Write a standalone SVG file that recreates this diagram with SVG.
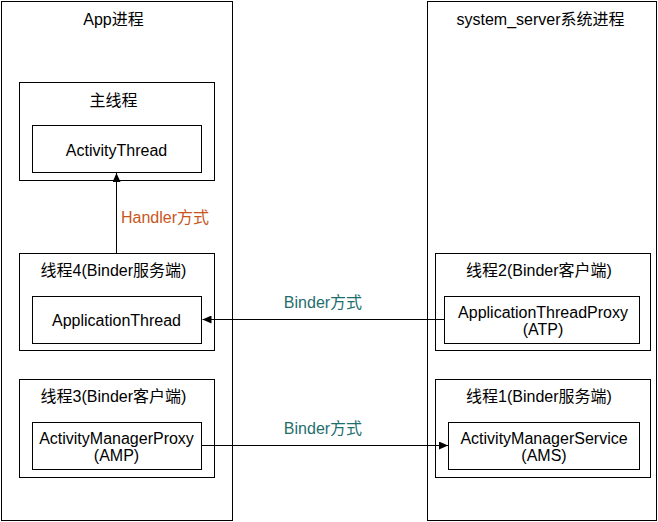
<svg xmlns="http://www.w3.org/2000/svg" width="658" height="522" viewBox="0 0 658 522">
<defs>
<style>
.box{fill:#ffffff;stroke:#000000;stroke-width:1}
.t{font-family:"Liberation Sans","Noto Sans CJK SC",sans-serif;font-size:16px;fill:#000000;text-anchor:middle}
.lbl-b{fill:#1f6e6e}
.lbl-h{fill:#c8561c}
.conn{stroke:#000000;stroke-width:1;fill:none}
</style>
<marker id="arrow" viewBox="0 0 9 8" refX="9" refY="4" markerWidth="9" markerHeight="8" markerUnits="userSpaceOnUse" orient="auto">
<path d="M0,0 L9,4 L0,8 z" fill="#000000"/>
</marker>
</defs>
<rect width="658" height="522" fill="#ffffff"/>

<g id="app-process">
<rect class="box" x="1.5" y="1.5" width="231" height="519"/>
<text class="t" x="113.5" y="25">App进程</text>
</g>

<g id="system-server-process">
<rect class="box" x="427.5" y="1.5" width="229" height="519"/>
<text class="t" x="540.5" y="25">system_server系统进程</text>
</g>

<g id="main-thread">
<rect class="box" x="19.5" y="82.5" width="195" height="98"/>
<text class="t" x="113.5" y="105.5">主线程</text>
</g>
<g id="activity-thread">
<rect class="box" x="32.5" y="125.5" width="169" height="47"/>
<text class="t" x="116.5" y="155.5">ActivityThread</text>
</g>

<g id="thread4">
<rect class="box" x="19.5" y="253.5" width="195" height="97"/>
<text class="t" x="113.5" y="276">线程4(Binder服务端)</text>
</g>
<g id="application-thread">
<rect class="box" x="32.5" y="296.5" width="169" height="47"/>
<text class="t" x="116.5" y="325.5">ApplicationThread</text>
</g>

<g id="thread3">
<rect class="box" x="19.5" y="379.5" width="195" height="98"/>
<text class="t" x="113.5" y="402">线程3(Binder客户端)</text>
</g>
<g id="amp">
<rect class="box" x="32.5" y="422.5" width="169" height="47"/>
<text class="t" x="116.5" y="443.5">ActivityManagerProxy</text>
<text class="t" x="116.5" y="460.5">(AMP)</text>
</g>

<g id="thread2">
<rect class="box" x="435.5" y="253.5" width="215" height="97"/>
<text class="t" x="539" y="276">线程2(Binder客户端)</text>
</g>
<g id="atp">
<rect class="box" x="444.5" y="296.5" width="195" height="47"/>
<text class="t" x="543" y="317.5">ApplicationThreadProxy</text>
<text class="t" x="543" y="334.5">(ATP)</text>
</g>

<g id="thread1">
<rect class="box" x="435.5" y="379.5" width="215" height="98"/>
<text class="t" x="539" y="402">线程1(Binder服务端)</text>
</g>
<g id="ams">
<rect class="box" x="448.5" y="422.5" width="191" height="47"/>
<text class="t" x="544" y="443.5">ActivityManagerService</text>
<text class="t" x="544" y="460.5">(AMS)</text>
</g>

<g id="connectors">
<line class="conn" x1="116.5" y1="253.5" x2="116.5" y2="173" marker-end="url(#arrow)"/>
<text class="t lbl-h" x="165" y="223">Handler方式</text>
<line class="conn" x1="444.5" y1="319.5" x2="202.5" y2="319.5" marker-end="url(#arrow)"/>
<text class="t lbl-b" x="323" y="308">Binder方式</text>
<line class="conn" x1="201.5" y1="445.5" x2="448" y2="445.5" marker-end="url(#arrow)"/>
<text class="t lbl-b" x="323" y="433.5">Binder方式</text>
</g>
</svg>
